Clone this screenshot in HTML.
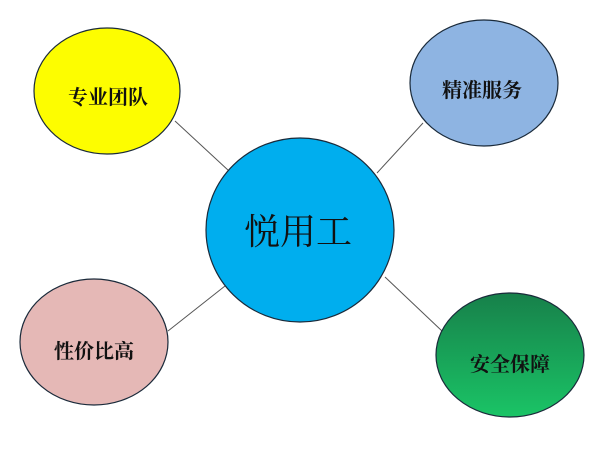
<!DOCTYPE html>
<html><head><meta charset="utf-8"><style>
html,body{margin:0;padding:0;background:#fff;width:600px;height:456px;overflow:hidden}
text{font-family:"Liberation Serif","Noto Serif CJK SC",serif;font-weight:bold;fill:#111}
</style></head><body>
<svg width="600" height="456" viewBox="0 0 600 456" xmlns="http://www.w3.org/2000/svg">
<defs>
<linearGradient id="g" x1="0" y1="0" x2="0" y2="1">
<stop offset="0" stop-color="#17804a"/><stop offset="1" stop-color="#1ac466"/>
</linearGradient>
</defs>
<g stroke="#555" stroke-width="1">
<line x1="175" y1="121" x2="229" y2="171"/>
<line x1="423" y1="123" x2="377" y2="173"/>
<line x1="168" y1="331" x2="225" y2="286"/>
<line x1="385" y1="277" x2="442" y2="331"/>
</g>
<g stroke="#1a2a3a" stroke-width="1.2">
<ellipse cx="107" cy="91" rx="73" ry="63" fill="#fdfd00"/>
<ellipse cx="484" cy="83" rx="74" ry="63" fill="#8eb4e2"/>
<ellipse cx="300" cy="230" rx="94" ry="92" fill="#00aeee"/>
<ellipse cx="94" cy="342" rx="74" ry="63" fill="#e5b8b6"/>
<ellipse cx="510" cy="355" rx="74" ry="62" fill="url(#g)"/>
</g>
<text x="108" y="104" font-size="20" text-anchor="middle">专业团队</text>
<text x="482" y="97" font-size="20" text-anchor="middle">精准服务</text>
<text x="298" y="244" font-size="36" font-weight="normal" text-anchor="middle" style="font-weight:normal">悦用工</text>
<text x="94" y="358" font-size="20" text-anchor="middle">性价比高</text>
<text x="510" y="371" font-size="20" text-anchor="middle">安全保障</text>
</svg>
</body></html>
